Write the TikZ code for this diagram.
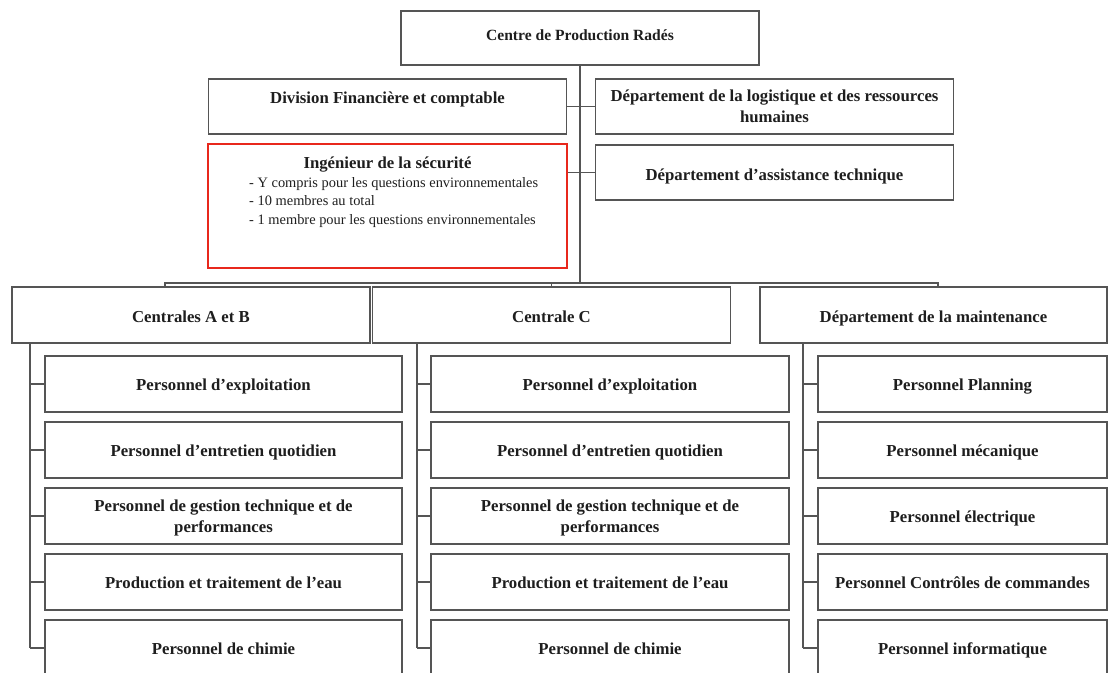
\documentclass[tikz,border=0pt]{standalone}
\usepackage{fontspec}
\setmainfont{Liberation Serif}
\usetikzlibrary{positioning,calc}
\definecolor{linegray}{RGB}{85,85,85}
\definecolor{txtgray}{RGB}{30,30,30}
\definecolor{alertred}{RGB}{232,40,28}
\tikzset{>=latex}

\begin{document}
\begin{tikzpicture}[x=0.03cm,y=-0.03cm,
  link/.style={draw=linegray, line width=0.9pt},
  unit/.style={draw=linegray, line width=0.9pt, align=center, text=txtgray, inner sep=0pt,
    text depth=0pt, font=\fontsize{14.3}{18}\selectfont\bfseries},
  single/.style={text height=10.6pt},
  multi/.style={},
  headbox/.style={unit, minimum width=10.74cm, minimum height=1.65cm},
  plantbox/.style={unit, minimum width=10.74cm, minimum height=1.68cm, text height=12.9pt},
  staff/.style={unit, minimum width=10.71cm, minimum height=1.68cm},
  redbox/.style={draw=alertred, line width=1.8pt, minimum width=10.77cm, minimum height=3.72cm}]
\useasboundingbox (0,0) rectangle (1109,673);

% direction
\node[unit, minimum width=10.74cm, minimum height=1.62cm, text depth=5.3pt, font=\fontsize{13.3}{16}\selectfont\bfseries] (cpr) at (580,38) {Centre de Production Radés};
\node[headbox, text depth=15pt] (dfc) at (387.5,106.5) {Division Financière et comptable};
\node[headbox] (dlrh) at (774.5,106.5) {Département de la logistique et des ressources\\humaines};
\node[headbox, text height=12.9pt] (dat) at (774.5,172.5) {Département d'assistance technique};
\node[redbox] (ing) at (387.5,206) {};
\node[below=12pt of ing.north, inner sep=0pt, text=txtgray, font=\fontsize{14.3}{16}\selectfont\bfseries] (ingt) {Ingénieur de la sécurité};
\node[anchor=north west, inner sep=0pt, align=left, text=txtgray, font=\fontsize{12.3}{15.8}\selectfont] (ingl) at (249,177)
  {- Y compris pour les questions environnementales\\- 10 membres au total\\- 1 membre pour les questions environnementales};

% centrales
\node[plantbox] (cab) at (191,315) {Centrales A et B};
\node[plantbox] (cc) at (551.5,315) {Centrale C};
\node[plantbox, minimum width=10.41cm] (mnt) at (933.5,315) {Département de la maintenance};

\coordinate (bus) at (580,283);
\coordinate (busl) at (165,283);
\coordinate (busr) at (938,283);
\draw[link] (cpr) -- (bus);
\draw[link] (dfc) -- (dlrh.west |- dfc);
\draw[link] (dat.west) -- (dat.west -| ing.east);
\draw[link] (busl |- cab.north) -- (busl) -- (busr) -- (busr |- mnt.north);
\draw[link] (cc.north) -- (cc.north |- bus);

% personnel
\coordinate (sp1) at (30,0);
\coordinate (sp2) at (417,0);
\coordinate (sp3) at (803,0);
\foreach \txt/\sty [count=\i] in {{Personnel d'exploitation}/single,{Personnel d'entretien quotidien}/single,
  {Personnel de gestion technique et de\\performances}/multi,{Production et traitement de l'eau}/single,
  {Personnel de chimie}/single}{
  \node[staff, \sty] (ab\i) at (223.5,{318+66*\i}) {\txt};
  \node[staff, \sty, minimum width=10.74cm] (c\i) at (610,{318+66*\i}) {\txt};
  \draw[link] (ab\i.west) -- (ab\i.west -| sp1);
  \draw[link] (c\i.west) -- (c\i.west -| sp2);
}
\foreach \txt [count=\i] in {{Personnel Planning},{Personnel mécanique},{Personnel électrique},
  {Personnel Contrôles de commandes},{Personnel informatique}}{
  \node[staff, single, minimum width=8.67cm] (m\i) at (962.5,{318+66*\i}) {\txt};
  \draw[link] (m\i.west) -- (m\i.west -| sp3);
}
\draw[link] (cab.south -| sp1) -- (sp1 |- ab5.west);
\draw[link] (cc.south -| sp2) -- (sp2 |- c5.west);
\draw[link] (mnt.south -| sp3) -- (sp3 |- m5.west);
\end{tikzpicture}
\end{document}
